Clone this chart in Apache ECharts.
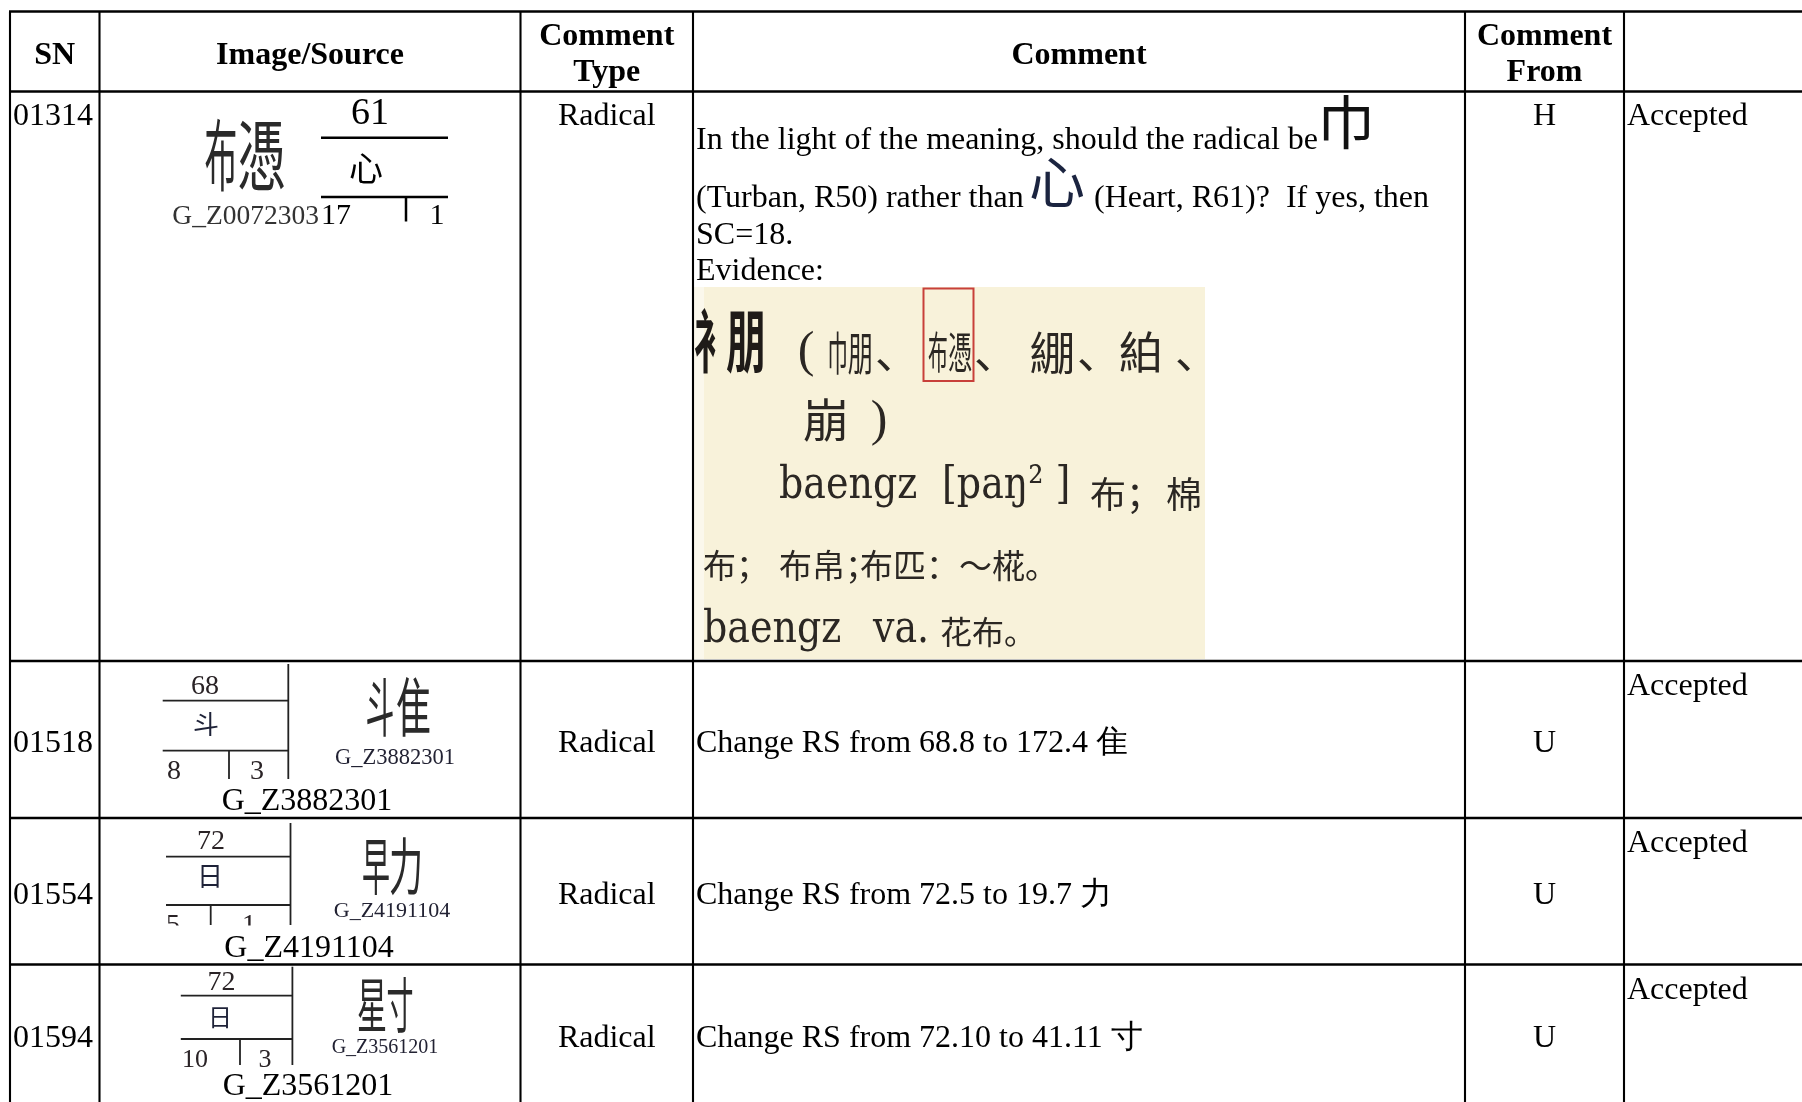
<!DOCTYPE html>
<html><head><meta charset="utf-8">
<script src="https://cdn.jsdelivr.net/npm/echarts@6/dist/echarts.min.js"></script>
<style>html,body{margin:0;padding:0;background:#fff}#c{width:1802px;height:1102px}</style>
</head><body><div id="c"></div>
<script>
// ---------- table content ----------
const headerLines = [['SN'], ['Image/Source'], ['Comment', 'Type'], ['Comment'], ['Comment', 'From'], []];
const snList = ['01314', '01518', '01554', '01594'];
const sourceIds = ['G_Z0072303', 'G_Z3882301', 'G_Z4191104', 'G_Z3561201'];
const radicalNums = ['61', '68', '72', '72'];
const radicalChars = ['心', '斗', '日', '日'];
const totalStrokes = ['17', '8', '5', '10'];
const residualStrokes = ['1', '3', '1', '3'];
const glyphParts = [['布', '憑'], ['斗', '隹'], ['早', '力'], ['星', '寸']];
const commentTypes = ['Radical', 'Radical', 'Radical', 'Radical'];
const commentFrom = ['H', 'U', 'U', 'U'];
const statuses = ['Accepted', 'Accepted', 'Accepted', 'Accepted'];
const firstComment = ['In the light of the meaning, should the radical be', '巾', '(Turban, R50) rather than', '心', '(Heart, R61)?  If yes, then', 'SC=18.', 'Evidence:'];
const otherComments = ['Change RS from 68.8 to 172.4 隹', 'Change RS from 72.5 to 19.7 力', 'Change RS from 72.10 to 41.11 寸'];
const evidenceHeadword = ['衤', '朋'];
const evidenceVariants = [['巾', '朋'], ['布', '憑'], ['綳'], ['絈']];
const evidenceLine2 = ['崩', ')'];
const evidenceReading = ['baengz', '[paŋ² ]', '布；', '棉'];
const evidenceGloss = ['布；', '布帛；', '布匹：～椛。'];
const evidenceExample = ['baengz', 'va.', '花布。'];

// ---------- layout ----------
const W = 1802, H = 1102;
const COLS = [10, 99.5, 520.5, 693, 1465, 1624, 1830];
const ROWS = [11.5, 91.5, 661, 818, 964.5, 1112];
const rowBaseAdjust = [0, 0, 0, -3.5];
const SERIF = "'Liberation Serif','Times New Roman',serif";
const CJK = "'Noto Sans CJK SC',sans-serif";
const SLAB = "'DejaVu Serif',serif";
const EV = '#2b2723';

// RS box layouts for rows 2-4 (box left of glyph)
const boxLayouts = [null,
  {boxL:162.7, boxR:288.3, vTop:664, l1:700.7, l2:750.7, vBot:779, numCx:205, numBase:691.7, radCx:206, radCy:724, radFont:26, totalX:167, sBase:777, tickX:229, residCx:257, sFont:28,
   gL:380, gR:413.5, gY:706, gF:64, sxL:.45, sxR:.55, smCx:395, smBase:763, smFont:22.5, lgCx:307, lgBase:808, clip:null},
  {boxL:166, boxR:290.5, vTop:823, l1:856.7, l2:905, vBot:925, numCx:211, numBase:847, radCx:210, radCy:875.5, radFont:26, totalX:166, sBase:931, tickX:210.7, residCx:249, sFont:28,
   gL:376, gR:406, gY:866, gF:62, sxL:.45, sxR:.55, smCx:392, smBase:916, smFont:22, lgCx:309, lgBase:955, clip:925.5},
  {boxL:180.8, boxR:292.4, vTop:966.7, l1:995.7, l2:1039, vBot:1065, numCx:221.5, numBase:988, radCx:220, radCy:1016.7, radFont:24, totalX:182, sBase:1065, tickX:240, residCx:265, sFont:26,
   gL:372, gR:400, gY:1005, gF:60, sxL:.5, sxR:.45, smCx:385, smBase:1052, smFont:20, lgCx:308, lgBase:1093, clip:null}
];

function T(api, x, base, text, o) {
  o = o || {};
  const size = o.size || 32;
  const fam = o.family || SERIF;
  const mid = fam === SLAB ? 0.346 - 0.12 : 0.3375 - 0.14;
  const sy = o.scaleY || 1;
  const p = api.coord([x, base - mid * size * sy]);
  return {type: 'text', x: p[0], y: p[1], scaleX: o.scaleX || 1, scaleY: sy,
    style: {text: text, font: (o.weight || 'normal') + ' ' + size + 'px ' + fam, fill: o.color || '#000', align: o.align || 'left', verticalAlign: 'middle'}};
}
function C(api, cx, cy, text, size, o) {
  o = o || {};
  const p = api.coord([cx, cy + (o.raw ? 0.06 : 0.01) * size]);
  return {type: 'text', x: p[0], y: p[1], scaleX: o.sx || 1,
    style: {text: text, font: (o.weight || 'normal') + ' ' + size + 'px ' + CJK, fill: o.color || '#000', align: o.align || 'center', verticalAlign: 'middle'}};
}
function L(api, x1, y1, x2, y2, w, color) {
  const a = api.coord([x1, y1]), b = api.coord([x2, y2]);
  return {type: 'line', shape: {x1: a[0], y1: a[1], x2: b[0], y2: b[1]}, style: {stroke: color || '#000', lineWidth: w}};
}
function R(api, x, y, w, h, style) {
  const a = api.coord([x, y]), b = api.coord([x + w, y + h]);
  return {type: 'rect', shape: {x: a[0], y: a[1], width: b[0] - a[0], height: b[1] - a[1]}, style: style};
}
const colCenter = i => (COLS[i] + COLS[i + 1]) / 2;

function renderHeader(api) {
  const ch = [];
  headerLines.forEach((lines, i) => {
    const bases = lines.length === 2 ? [43, 79] : [62];
    lines.forEach((s, j) => ch.push(T(api, colCenter(i), bases[j], s, {weight: 'bold', align: 'center'})));
  });
  return ch;
}

function renderFirstRow(api) {
  const ch = [];
  const top = ROWS[1];
  const base = top + 31.5;
  ch.push(T(api, 13, base, snList[0]));
  ch.push(T(api, colCenter(2), base, commentTypes[0], {align: 'center'}));
  ch.push(T(api, colCenter(4), base, commentFrom[0], {align: 'center'}));
  ch.push(T(api, 1627, base, statuses[0]));
  // image / source
  ch.push(C(api, 221, 155, glyphParts[0][0], 78, {sx: .42, color: '#2a2a2a'}));
  ch.push(C(api, 261.5, 155, glyphParts[0][1], 78, {sx: .62, color: '#2a2a2a'}));
  ch.push(T(api, 319, 222, sourceIds[0], {size: 27.5, align: 'right', color: '#333'}));
  ch.push(T(api, 370, 122, radicalNums[0], {size: 38, align: 'center'}));
  ch.push(L(api, 321, 137.7, 448, 137.7, 2.5));
  ch.push(C(api, 366, 168, radicalChars[0], 34));
  ch.push(L(api, 321, 197, 448, 197, 2.5));
  ch.push(T(api, 321, 222, totalStrokes[0], {size: 30}));
  ch.push(L(api, 406, 197, 406, 221.5, 2.5));
  ch.push(T(api, 437, 222, residualStrokes[0], {size: 30, align: 'center'}));
  // comment
  ch.push(T(api, 696, 147, firstComment[0]));
  ch.push(C(api, 1346, 121, firstComment[1], 58, {color: '#111'}));
  ch.push(T(api, 696, 205, firstComment[2]));
  ch.push(C(api, 1057, 181, firstComment[3], 56, {color: '#1b2440'}));
  ch.push(T(api, 1094, 205, firstComment[4]));
  ch.push(T(api, 696, 242, firstComment[5]));
  ch.push(T(api, 696, 278, firstComment[6]));
  // evidence scan
  ch.push(R(api, 694, 287, 511, 372, {fill: '#F8F2DA'}));
  ch.push(R(api, 694, 287, 10, 372, {fill: '#FBF8EC'}));
  ch.push(C(api, 711, 340, evidenceHeadword[0], 68, {sx: .5, weight: 'bold', color: '#1f1b18'}));
  ch.push(C(api, 746, 340, evidenceHeadword[1], 68, {sx: .58, weight: 'bold', color: '#1f1b18'}));
  ch.push(T(api, 806, 363, '(', {size: 50, align: 'center', color: EV}));
  ch.push(C(api, 837.5, 352, evidenceVariants[0][0], 46, {sx: .45, color: EV}));
  ch.push(C(api, 860.5, 352, evidenceVariants[0][1], 46, {sx: .55, color: EV}));
  ch.push(C(api, 875, 350, '、', 44, {align: 'left', raw: true, color: EV}));
  ch.push(R(api, 923.5, 288.5, 50, 92.5, {fill: null, stroke: '#C8403A', lineWidth: 2}));
  ch.push(C(api, 938, 352, evidenceVariants[1][0], 44, {sx: .45, color: EV}));
  ch.push(C(api, 960, 352, evidenceVariants[1][1], 44, {sx: .55, color: EV}));
  ch.push(C(api, 974, 350, '、', 44, {align: 'left', raw: true, color: EV}));
  ch.push(C(api, 1052.5, 352, evidenceVariants[2][0], 46, {color: EV}));
  ch.push(C(api, 1077, 350, '、', 44, {align: 'left', raw: true, color: EV}));
  ch.push(C(api, 1141, 352, evidenceVariants[3][0], 44, {color: EV}));
  ch.push(C(api, 1175, 350, '、', 44, {align: 'left', raw: true, color: EV}));
  ch.push(C(api, 826, 419, evidenceLine2[0], 46, {color: EV}));
  ch.push(T(api, 879, 432, evidenceLine2[1], {size: 50, align: 'center', color: EV}));
  ch.push(T(api, 779, 496, evidenceReading[0], {family: SLAB, size: 38, scaleY: 1.2, color: EV}));
  ch.push(T(api, 942, 496, evidenceReading[1], {family: SLAB, size: 38, scaleY: 1.2, color: EV}));
  ch.push(C(api, 1090, 494, evidenceReading[2], 36, {align: 'left', color: EV}));
  ch.push(C(api, 1184, 494, evidenceReading[3], 36, {color: EV}));
  ch.push(C(api, 703, 565, evidenceGloss[0], 33, {align: 'left', color: EV}));
  ch.push(C(api, 779, 565, evidenceGloss[1], 33, {align: 'left', color: EV}));
  ch.push(C(api, 860, 565, evidenceGloss[2], 33, {align: 'left', color: EV}));
  ch.push(T(api, 703, 640, evidenceExample[0], {family: SLAB, size: 38, scaleY: 1.2, color: EV}));
  ch.push(T(api, 873, 640, evidenceExample[1], {family: SLAB, size: 38, scaleY: 1.2, color: EV}));
  ch.push(C(api, 940, 632, evidenceExample[2], 32, {align: 'left', color: EV}));
  return ch;
}

function renderRow(api, i) {
  const ch = [];
  const top = ROWS[i + 1], bot = ROWS[i + 2];
  const base = (top + bot) / 2 + 10.5 + rowBaseAdjust[i];
  const b = boxLayouts[i];
  ch.push(T(api, 13, base, snList[i]));
  ch.push(T(api, colCenter(2), base, commentTypes[i], {align: 'center'}));
  ch.push(T(api, 696, base, otherComments[i - 1], {}));
  ch.push(T(api, colCenter(4), base, commentFrom[i], {align: 'center'}));
  ch.push(T(api, 1627, top + 32, statuses[i]));
  // RS box
  const lw = 1.8, bc = '#222';
  ch.push(L(api, b.boxR, b.vTop, b.boxR, b.vBot, lw, bc));
  ch.push(L(api, b.boxL, b.l1, b.boxR, b.l1, lw, bc));
  ch.push(L(api, b.boxL, b.l2, b.boxR, b.l2, lw, bc));
  ch.push(L(api, b.tickX, b.l2, b.tickX, b.vBot, lw, bc));
  ch.push(T(api, b.numCx, b.numBase, radicalNums[i], {size: 28, align: 'center', color: '#2a2326'}));
  ch.push(C(api, b.radCx, b.radCy, radicalChars[i], b.radFont, {color: '#1e2238'}));
  ch.push(T(api, b.totalX, b.sBase, totalStrokes[i], {size: b.sFont, color: '#2a2326'}));
  ch.push(T(api, b.residCx, b.sBase, residualStrokes[i], {size: b.sFont, align: 'center', color: '#2a2326'}));
  if (b.clip) ch.push(R(api, b.boxL - 5, b.clip, b.boxR - b.boxL + 10, 8, {fill: '#fff'}));
  // glyph + ids
  ch.push(C(api, b.gL, b.gY, glyphParts[i][0], b.gF, {sx: b.sxL, color: '#2a2a2a'}));
  ch.push(C(api, b.gR, b.gY, glyphParts[i][1], b.gF, {sx: b.sxR, color: '#2a2a2a'}));
  ch.push(T(api, b.smCx, b.smBase, sourceIds[i], {size: b.smFont, align: 'center', color: '#222233'}));
  ch.push(T(api, b.lgCx, b.lgBase, sourceIds[i], {size: 32, align: 'center'}));
  return ch;
}

function renderBorders(api) {
  const ch = [];
  ROWS.forEach(y => ch.push(L(api, COLS[0] - 1, y, W, y, 2.6)));
  COLS.slice(0, 6).forEach(x => ch.push(L(api, x, ROWS[0], x, H, 2.1)));
  return ch;
}

const chart = echarts.init(document.getElementById('c'), null, {renderer: 'canvas', width: W, height: H});
chart.setOption({
  animation: false,
  backgroundColor: '#fff',
  grid: {left: 0, right: 0, top: 0, bottom: 0},
  xAxis: {type: 'value', min: 0, max: W, show: false},
  yAxis: {type: 'value', min: 0, max: H, inverse: true, show: false},
  series: [{
    type: 'custom',
    clip: false,
    silent: true,
    data: [0, 1, 2, 3, 4, 5].map(k => [k, k]),
    renderItem: function (params, api) {
      const k = params.dataIndex;
      let children;
      if (k === 0) children = renderHeader(api);
      else if (k === 1) children = renderFirstRow(api);
      else if (k <= 4) children = renderRow(api, k - 1);
      else children = renderBorders(api);
      return {type: 'group', children: children};
    }
  }]
});
</script>
</body></html>
